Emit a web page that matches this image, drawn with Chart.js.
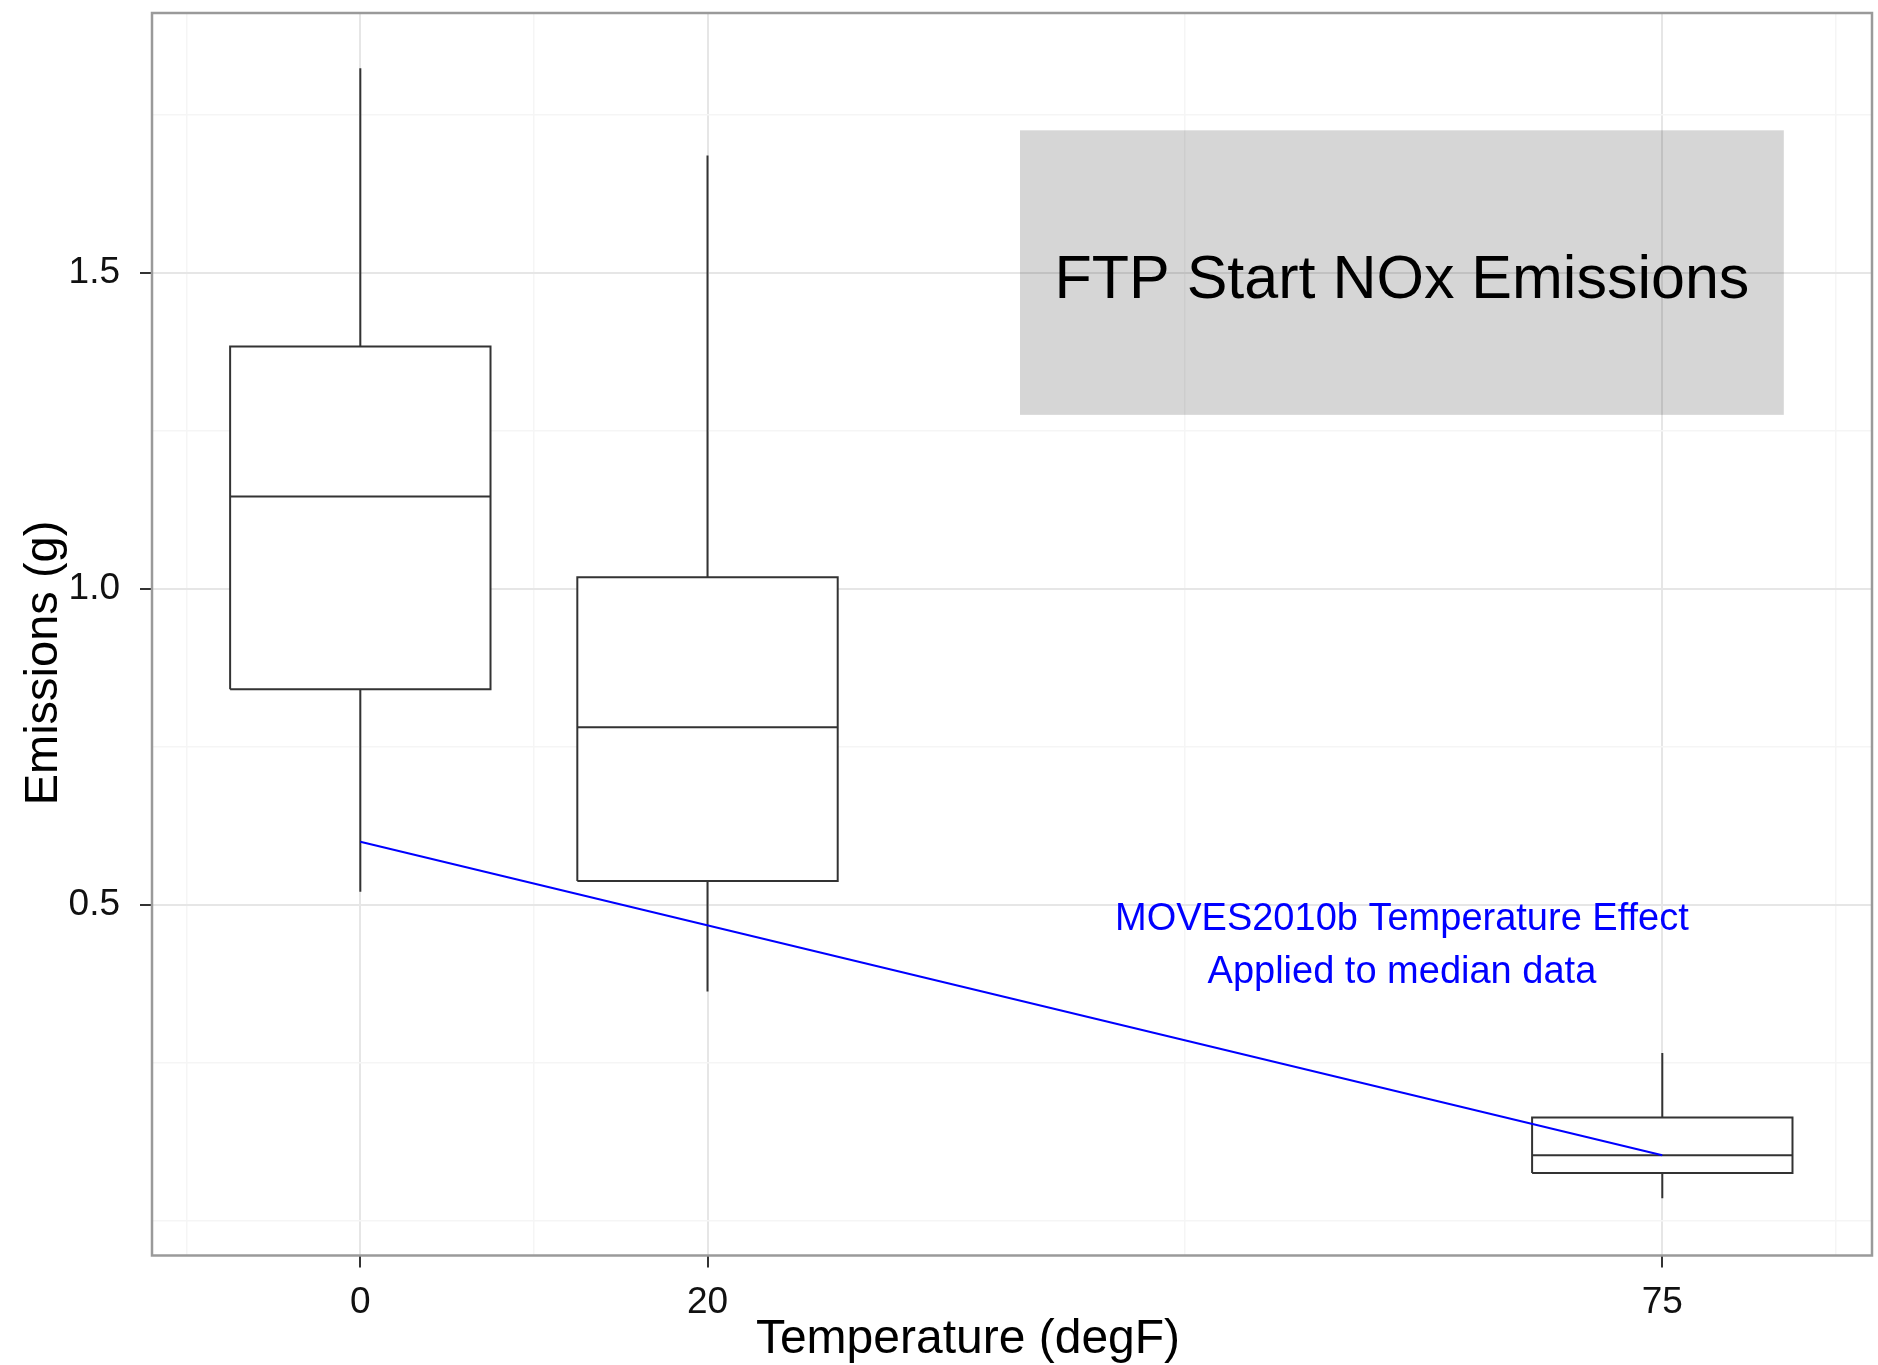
<!DOCTYPE html>
<html>
<head>
<meta charset="utf-8">
<title>FTP Start NOx Emissions</title>
<script src="https://cdn.jsdelivr.net/npm/chart.js@4.4.1/dist/chart.umd.min.js"></script>
<style>
  html, body { margin: 0; padding: 0; background: #ffffff; }
  #wrap { width: 1878px; height: 1365px; }
</style>
</head>
<body>
<div id="wrap"><canvas id="chart" width="1878" height="1365"></canvas></div>
<script>
// Test temperatures (degF) and box-plot statistics of start NOx emissions (g)
const temperatures = [0, 20, 75];
const whiskerLow   = [0.521, 0.363, 0.036];
const quartile1    = [0.841, 0.538, 0.076];
const medians      = [1.146, 0.781, 0.104];
const quartile3    = [1.383, 1.018, 0.164];
const whiskerHigh  = [1.823, 1.685, 0.266];

// MOVES2010b temperature adjustment applied to the 75F median
const movesTemps  = [0, 75];
const movesEffect = [0.600, 0.104];

// Axis ticks and grid lines
const xTicksMajor = [0, 20, 75];
const xGridMinor  = [-10, 10, 47.5, 85];
const yTicksMajor = [0.5, 1.0, 1.5];
const yGridMinor  = [0, 0.25, 0.75, 1.25, 1.75];

const xTitle = 'Temperature (degF)';
const yTitle = 'Emissions (g)';
const panelLabel = 'FTP Start NOx Emissions';
const noteLines = ['MOVES2010b Temperature Effect', 'Applied to median data'];

// ---- styling / layout ----
const FONT = '"Liberation Sans", Arial, Helvetica, sans-serif';
const INK = '#333333';
const BOX_HALF = 7.5;                       // half box width in degF
const LABEL_BOX = { x0: 38, x1: 82, y0: 1.275, y1: 1.725 };
const LABEL_POS = { x: 60, y: 1.46 };
const NOTE_POS  = { x: 60, y: [0.4605, 0.3761] };

const datasets = [];
temperatures.forEach((t, i) => {
  // whiskers
  datasets.push({
    data: [{ x: t, y: quartile3[i] }, { x: t, y: whiskerHigh[i] }],
    borderColor: INK, borderWidth: 2, pointRadius: 0, order: 4
  });
  datasets.push({
    data: [{ x: t, y: whiskerLow[i] }, { x: t, y: quartile1[i] }],
    borderColor: INK, borderWidth: 2, pointRadius: 0, order: 4
  });
  // box from first to third quartile
  datasets.push({
    data: [
      { x: t - BOX_HALF, y: quartile1[i] },
      { x: t + BOX_HALF, y: quartile1[i] },
      { x: t + BOX_HALF, y: quartile3[i] },
      { x: t - BOX_HALF, y: quartile3[i] },
      { x: t - BOX_HALF, y: quartile1[i] }
    ],
    borderColor: INK, borderWidth: 2, backgroundColor: '#ffffff',
    fill: 'shape', pointRadius: 0, borderJoinStyle: 'miter', order: 3
  });
  // median
  datasets.push({
    data: [{ x: t - BOX_HALF, y: medians[i] }, { x: t + BOX_HALF, y: medians[i] }],
    borderColor: INK, borderWidth: 2, pointRadius: 0, order: 2
  });
});
// temperature effect curve
datasets.push({
  data: movesTemps.map((t, i) => ({ x: t, y: movesEffect[i] })),
  borderColor: '#0000ff', borderWidth: 2, pointRadius: 0, order: 1
});

const isMajor = (list, v) => list.some(m => Math.abs(m - v) < 1e-9);

const decor = {
  id: 'decor',
  beforeDatasetsDraw(chart) {
    const { ctx, scales: { x, y } } = chart;
    ctx.save();
    ctx.fillStyle = 'rgba(0,0,0,0.16)';
    const px0 = x.getPixelForValue(LABEL_BOX.x0), px1 = x.getPixelForValue(LABEL_BOX.x1);
    const py0 = y.getPixelForValue(LABEL_BOX.y1), py1 = y.getPixelForValue(LABEL_BOX.y0);
    ctx.fillRect(px0, py0, px1 - px0, py1 - py0);
    ctx.restore();
  },
  afterDraw(chart) {
    const { ctx, chartArea: a, scales: { x, y } } = chart;
    ctx.save();
    // panel border
    ctx.strokeStyle = '#9a9a9a';
    ctx.lineWidth = 2.5;
    ctx.strokeRect(a.left, a.top, a.right - a.left, a.bottom - a.top);

    // panel label
    ctx.fillStyle = '#000000';
    ctx.textAlign = 'center';
    ctx.textBaseline = 'alphabetic';
    ctx.font = '61px ' + FONT;
    ctx.fillText(panelLabel, x.getPixelForValue(LABEL_POS.x), y.getPixelForValue(LABEL_POS.y));

    // note in blue
    ctx.fillStyle = '#0000ff';
    ctx.font = '38px ' + FONT;
    noteLines.forEach((s, i) => {
      ctx.fillText(s, x.getPixelForValue(NOTE_POS.x), y.getPixelForValue(NOTE_POS.y[i]));
    });

    // axis titles
    ctx.fillStyle = '#000000';
    ctx.font = '48px ' + FONT;
    ctx.fillText(xTitle, 968, 1353);
    ctx.translate(57, 663);
    ctx.rotate(-Math.PI / 2);
    ctx.font = '47px ' + FONT;
    ctx.fillText(yTitle, 0, 0);
    ctx.restore();
  }
};

const gridColor = major => major ? '#e6e6e6' : '#f5f5f5';

new Chart(document.getElementById('chart'), {
  type: 'line',
  data: { datasets },
  plugins: [decor],
  options: {
    responsive: false,
    animation: false,
    events: [],
    layout: { padding: { top: 13, right: 6, left: 0, bottom: 0 } },
    plugins: { legend: { display: false }, tooltip: { enabled: false } },
    elements: { line: { tension: 0, borderCapStyle: 'butt' } },
    scales: {
      x: {
        type: 'linear',
        min: -12, max: 87.08,
        afterBuildTicks: s => {
          s.ticks = [...xTicksMajor, ...xGridMinor].sort((a, b) => a - b).map(v => ({ value: v }));
        },
        afterFit: s => {
          s.height = 109.5;
          s.paddingLeft = 0; s.paddingRight = 0;
          s.paddingTop = 0; s.paddingBottom = 0;
        },
        border: { display: false },
        grid: {
          color: c => gridColor(isMajor(xTicksMajor, c.tick.value)),
          lineWidth: c => isMajor(xTicksMajor, c.tick.value) ? 2 : 1.5,
          tickLength: 12,
          tickWidth: 2,
          tickColor: c => isMajor(xTicksMajor, c.tick.value) ? INK : 'rgba(0,0,0,0)'
        },
        ticks: {
          autoSkip: false, maxRotation: 0, padding: 13,
          color: '#111111', font: { family: FONT, size: 37 },
          callback: v => isMajor(xTicksMajor, v) ? String(v) : ''
        }
      },
      y: {
        type: 'linear',
        min: -0.0544, max: 1.9105,
        afterBuildTicks: s => {
          s.ticks = [...yTicksMajor, ...yGridMinor].sort((a, b) => a - b).map(v => ({ value: v }));
        },
        afterFit: s => {
          s.width = 152;
          s.paddingLeft = 0; s.paddingRight = 0;
          s.paddingTop = 0; s.paddingBottom = 0;
        },
        border: { display: false },
        grid: {
          color: c => gridColor(isMajor(yTicksMajor, c.tick.value)),
          lineWidth: c => isMajor(yTicksMajor, c.tick.value) ? 2 : 1.5,
          tickLength: 12,
          tickWidth: 2,
          tickColor: c => isMajor(yTicksMajor, c.tick.value) ? INK : 'rgba(0,0,0,0)'
        },
        ticks: {
          autoSkip: false, padding: 20,
          color: '#111111', font: { family: FONT, size: 37 },
          callback: v => isMajor(yTicksMajor, v) ? v.toFixed(1) : ''
        }
      }
    }
  }
});
</script>
</body>
</html>
